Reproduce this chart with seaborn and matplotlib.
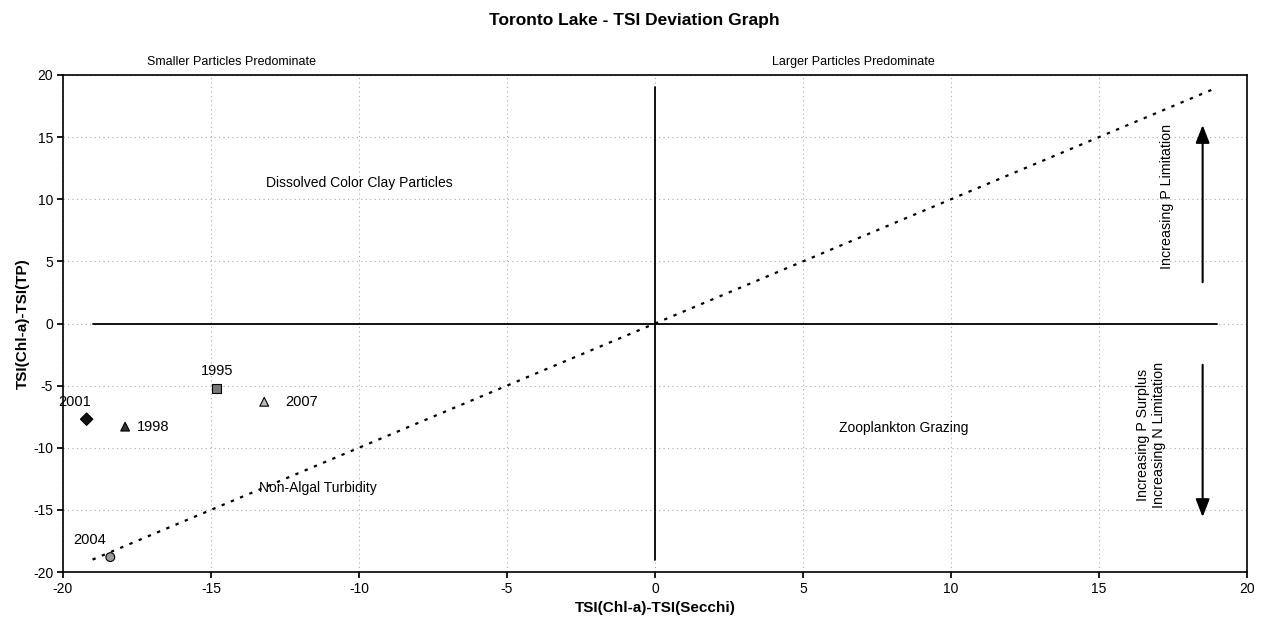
import matplotlib
matplotlib.use("Agg")
import matplotlib.pyplot as plt
import seaborn as sns
import pandas as pd

years = ["2001", "1998", "1995", "2007", "2004"]
chl_secchi = [-19.2, -17.9, -14.8, -13.2, -18.4]
chl_tp = [-7.7, -8.3, -5.2, -6.3, -18.8]

sns.set_theme(style="white")
plt.rcParams['font.family'] = ['Liberation Sans', 'DejaVu Sans']
plt.rcParams['axes.unicode_minus'] = False
plt.rcParams['text.color'] = 'black'
plt.rcParams['axes.labelcolor'] = 'black'
plt.rcParams['xtick.color'] = 'black'
plt.rcParams['ytick.color'] = 'black'

df = pd.DataFrame({"x": chl_secchi, "y": chl_tp, "year": years})

fig = plt.figure(figsize=(12.69, 6.37), dpi=100)
ax = fig.add_axes([0.0496, 0.102, 0.9331, 0.7803])

ax.set_xlim(-20, 20)
ax.set_ylim(-20, 20)
ticks = list(range(-20, 21, 5))
ax.set_xticks(ticks)
ax.set_yticks(ticks)
ax.grid(True, color="#aaaaaa", linestyle=(0, (1, 3)), linewidth=0.8)
for s in ax.spines.values():
    s.set_color("black")
    s.set_linewidth(1.2)
ax.tick_params(axis="both", direction="out", length=4, color="black", labelsize=10, pad=3, bottom=True, left=True)

# reference lines
sns.lineplot(x=[-19, 19], y=[0, 0], ax=ax, color="black", linewidth=1.3)
sns.lineplot(x=[0, 0], y=[-19, 19], ax=ax, color="black", linewidth=1.3, orient="y")
sns.lineplot(x=[-19, 19], y=[-19, 19], ax=ax, color="black", linewidth=1.6, linestyle=(0, (1.5, 3)))

markers = {"2001": "D", "1998": "^", "1995": "s", "2007": "^", "2004": "o"}
palette = {"2001": "#111111", "1998": "#333333", "1995": "#777777", "2007": "#bbbbbb", "2004": "#999999"}
sns.scatterplot(data=df, x="x", y="y", hue="year", style="year", markers=markers, palette=palette,
                s=40, edgecolor="black", linewidth=0.8, legend=False, ax=ax, zorder=5)

offsets = {"2001": (-0.4, 1.4, "center"), "1998": (0.4, 0.0, "left"), "1995": (0.0, 1.4, "center"),
           "2007": (0.7, 0.0, "left"), "2004": (-0.7, 1.4, "center")}
for yr, xv, yv in zip(years, chl_secchi, chl_tp):
    dx, dy, ha = offsets[yr]
    ax.text(xv + dx, yv + dy, yr, ha=ha, va="center", fontsize=10.5, color="black")

ax.text(-10.0, 11.3, "Dissolved Color Clay Particles", ha="center", va="center", fontsize=10)
ax.text(-11.4, -13.2, "Non-Algal Turbidity", ha="center", va="center", fontsize=10)
ax.text(8.4, -8.4, "Zooplankton Grazing", ha="center", va="center", fontsize=10)
ax.text(-14.3, 20.6, "Smaller Particles Predominate", ha="center", va="bottom", fontsize=9)
ax.text(6.7, 20.6, "Larger Particles Predominate", ha="center", va="bottom", fontsize=9)

ax.annotate("", xy=(18.5, 16.2), xytext=(18.5, 3.1),
            arrowprops=dict(arrowstyle="-|>,head_width=0.35,head_length=0.9", color="black", lw=1.5))
ax.annotate("", xy=(18.5, -15.8), xytext=(18.5, -3.1),
            arrowprops=dict(arrowstyle="-|>,head_width=0.35,head_length=0.9", color="black", lw=1.5))
ax.text(17.3, 10.2, "Increasing P Limitation", rotation=90, ha="center", va="center", fontsize=10.3)
ax.text(16.75, -9.0, "Increasing P Surplus\nIncreasing N Limitation", rotation=90, ha="center", va="center",
        fontsize=10.3, linespacing=1.15)

ax.set_xlabel("TSI(Chl-a)-TSI(Secchi)", fontsize=11, fontweight="bold", labelpad=4)
ax.set_ylabel("TSI(Chl-a)-TSI(TP)", fontsize=11, fontweight="bold", labelpad=2)
fig.suptitle("Toronto Lake - TSI Deviation Graph", x=0.5, y=0.98, fontsize=12.5, fontweight="bold")

fig.savefig("out.png", dpi=100, facecolor="white")
